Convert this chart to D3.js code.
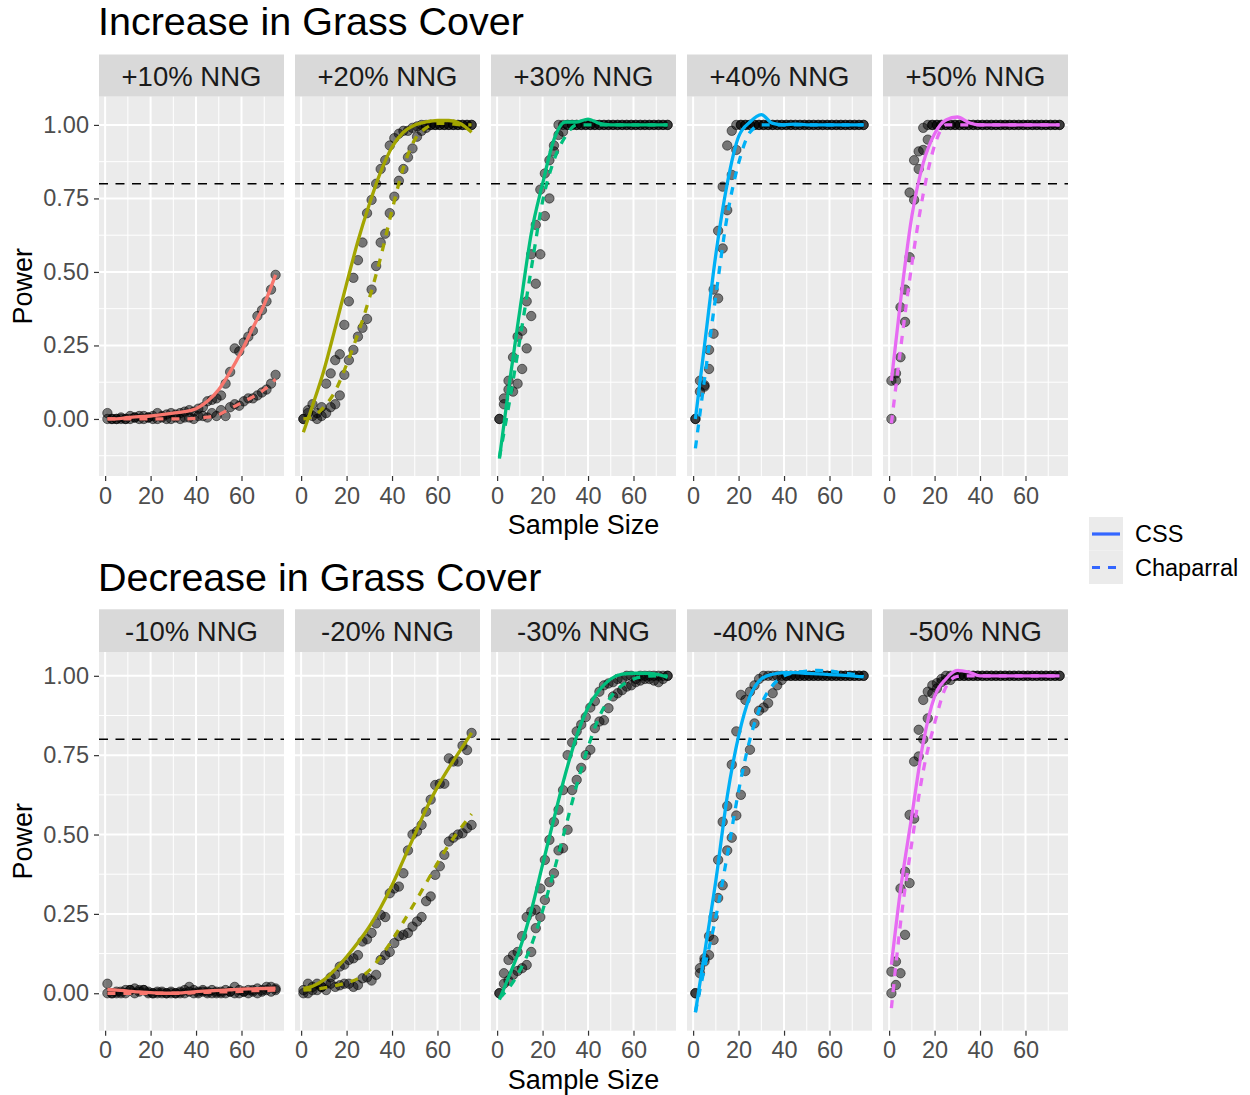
<!DOCTYPE html>
<html><head><meta charset="utf-8">
<script src="https://cdn.jsdelivr.net/npm/d3@7"></script>
<style>
body{margin:0;background:#fff}
text{font-family:"Liberation Sans", Arial, Helvetica, sans-serif}
</style>
</head><body>
<svg id="chart" width="1250" height="1095"></svg>
<script>
// ---------------- DATA ----------------
const sampleSizes = [1,3,5,7,9,11,13,15,17,19,21,23,25,27,29,31,33,35,37,39,41,43,45,47,49,51,53,55,57,59,61,63,65,67,69,71,73,75];
const fitSizes = [1,5,10,15,20,25,30,35,40,45,50,55,60,65,70,75];

const incLabels = ["+10% NNG","+20% NNG","+30% NNG","+40% NNG","+50% NNG"];
const decLabels = ["-10% NNG","-20% NNG","-30% NNG","-40% NNG","-50% NNG"];
const panelColors = ["#F8766D","#A3A500","#00BF7D","#00B0F6","#E76BF3"];
const habitats = ["CSS","Chaparral"];
const legendColor = "#3366FF";
const yTicks = [0,0.25,0.5,0.75,1.0];
const yMinor = [-0.125,0.125,0.375,0.625,0.875,1.125];
const xTicks = [0,20,40,60];
const xMinor = [10,30,50,70];
const powerThreshold = 0.8;

// points: power at each sample size (sampleSizes)
const inc10Css = [0.02,0.00,0.00,0.005,0.00,0.01,0.005,0.01,0.01,0.005,0.01,0.02,0.01,0.015,0.02,0.015,0.02,0.025,0.03,0.025,0.035,0.04,0.06,0.065,0.07,0.08,0.12,0.16,0.24,0.23,0.26,0.28,0.30,0.35,0.37,0.40,0.44,0.49];
const inc10Chap = [0.00,0.00,0.00,0.00,0.00,0.00,0.005,0.00,0.00,0.005,0.00,0.00,0.005,0.00,0.00,0.005,0.00,0.005,0.005,0.00,0.01,0.01,0.005,0.02,0.01,0.03,0.01,0.04,0.05,0.045,0.06,0.07,0.07,0.08,0.09,0.10,0.12,0.15];
const inc20Css = [0.00,0.03,0.05,0.02,0.04,0.12,0.155,0.20,0.22,0.32,0.40,0.48,0.54,0.60,0.70,0.745,0.80,0.85,0.88,0.93,0.955,0.97,0.98,0.98,0.99,0.995,1.00,1.00,1.00,1.00,1.00,1.00,1.00,1.00,1.00,1.00,1.00,1.00];
const inc20Chap = [0.00,0.02,0.01,0.00,0.01,0.02,0.04,0.05,0.08,0.15,0.20,0.235,0.28,0.31,0.34,0.44,0.52,0.60,0.63,0.70,0.756,0.81,0.85,0.89,0.92,0.96,0.98,0.99,1.00,1.00,1.00,1.00,1.00,1.00,1.00,1.00,1.00,1.00];
const inc30Css = [0.00,0.07,0.10,0.21,0.28,0.30,0.40,0.56,0.66,0.78,0.835,0.88,0.93,1.00,1.00,1.00,1.00,1.00,1.00,1.00,1.00,1.00,1.00,1.00,1.00,1.00,1.00,1.00,1.00,1.00,1.00,1.00,1.00,1.00,1.00,1.00,1.00,1.00];
const inc30Chap = [0.00,0.05,0.13,0.093,0.12,0.17,0.24,0.35,0.46,0.56,0.69,0.75,0.91,0.966,0.977,1.00,1.00,1.00,1.00,1.00,1.00,1.00,1.00,1.00,1.00,1.00,1.00,1.00,1.00,1.00,1.00,1.00,1.00,1.00,1.00,1.00,1.00,1.00];
const inc40Css = [0.00,0.13,0.115,0.17,0.44,0.64,0.79,0.93,0.98,1.00,1.00,1.00,1.00,1.00,1.00,1.00,1.00,1.00,1.00,1.00,1.00,1.00,1.00,1.00,1.00,1.00,1.00,1.00,1.00,1.00,1.00,1.00,1.00,1.00,1.00,1.00,1.00,1.00];
const inc40Chap = [0.00,0.093,0.11,0.235,0.29,0.41,0.58,0.71,0.83,0.915,1.00,1.00,1.00,1.00,1.00,1.00,1.00,1.00,1.00,1.00,1.00,1.00,1.00,1.00,1.00,1.00,1.00,1.00,1.00,1.00,1.00,1.00,1.00,1.00,1.00,1.00,1.00,1.00];
const inc50Css = [0.13,0.155,0.38,0.44,0.77,0.88,0.91,0.99,1.00,1.00,1.00,1.00,1.00,1.00,1.00,1.00,1.00,1.00,1.00,1.00,1.00,1.00,1.00,1.00,1.00,1.00,1.00,1.00,1.00,1.00,1.00,1.00,1.00,1.00,1.00,1.00,1.00,1.00];
const inc50Chap = [0.00,0.13,0.21,0.33,0.55,0.745,0.85,0.915,0.95,1.00,1.00,1.00,1.00,1.00,1.00,1.00,1.00,1.00,1.00,1.00,1.00,1.00,1.00,1.00,1.00,1.00,1.00,1.00,1.00,1.00,1.00,1.00,1.00,1.00,1.00,1.00,1.00,1.00];

const dec10Css = [0.03,0.00,0.00,0.005,0.01,0.01,0.015,0.01,0.01,0.005,0.00,0.005,0.00,0.00,0.005,0.00,0.005,0.01,0.02,0.01,0.005,0.01,0.005,0.01,0.00,0.005,0.01,0.005,0.02,0.01,0.005,0.01,0.01,0.015,0.01,0.02,0.02,0.015];
const dec10Chap = [0.00,0.00,0.005,0.00,0.00,0.01,0.00,0.005,0.01,0.00,0.00,0.00,0.005,0.00,0.00,0.00,0.00,0.00,0.005,0.00,0.00,0.005,0.00,0.00,0.005,0.00,0.00,0.005,0.00,0.00,0.005,0.00,0.005,0.00,0.005,0.01,0.005,0.01];
const dec20Css = [0.00,0.03,0.01,0.03,0.02,0.03,0.05,0.06,0.084,0.09,0.105,0.11,0.12,0.163,0.17,0.19,0.22,0.247,0.24,0.315,0.33,0.336,0.378,0.45,0.50,0.51,0.53,0.572,0.61,0.656,0.66,0.66,0.74,0.73,0.73,0.78,0.766,0.82];
const dec20Chap = [0.01,0.00,0.02,0.01,0.02,0.01,0.03,0.02,0.025,0.03,0.03,0.02,0.026,0.047,0.05,0.04,0.058,0.105,0.12,0.13,0.158,0.18,0.184,0.19,0.21,0.226,0.24,0.29,0.305,0.373,0.40,0.436,0.478,0.49,0.50,0.504,0.52,0.53];
const dec30Css = [0.00,0.063,0.105,0.12,0.13,0.18,0.24,0.257,0.263,0.33,0.42,0.483,0.54,0.578,0.64,0.75,0.79,0.825,0.846,0.87,0.90,0.92,0.95,0.97,0.976,0.98,0.99,0.99,1.00,1.00,0.99,1.00,1.00,1.00,1.00,1.00,1.00,1.00];
const dec30Chap = [0.00,0.03,0.04,0.058,0.07,0.079,0.089,0.13,0.205,0.24,0.294,0.35,0.378,0.45,0.457,0.515,0.64,0.672,0.71,0.75,0.767,0.835,0.856,0.86,0.898,0.935,0.945,0.955,0.966,0.97,0.98,0.985,0.99,0.99,0.985,0.98,0.99,1.00];
const dec40Css = [0.00,0.079,0.11,0.18,0.24,0.42,0.54,0.59,0.72,0.825,0.94,0.924,0.95,0.97,0.99,1.00,1.00,1.00,1.00,1.00,1.00,1.00,1.00,1.00,1.00,1.00,1.00,1.00,1.00,1.00,1.00,1.00,1.00,1.00,1.00,1.00,1.00,1.00];
const dec40Chap = [0.00,0.063,0.10,0.12,0.168,0.30,0.34,0.45,0.49,0.56,0.625,0.70,0.767,0.85,0.89,0.90,0.914,0.945,0.97,0.987,1.00,1.00,1.00,1.00,1.00,1.00,1.00,1.00,1.00,1.00,1.00,1.00,1.00,1.00,1.00,1.00,1.00,1.00];
const dec50Css = [0.068,0.10,0.33,0.383,0.562,0.73,0.83,0.924,0.95,0.97,0.977,0.99,1.00,1.00,1.00,1.00,1.00,1.00,1.00,1.00,1.00,1.00,1.00,1.00,1.00,1.00,1.00,1.00,1.00,1.00,1.00,1.00,1.00,1.00,1.00,1.00,1.00,1.00];
const dec50Chap = [0.00,0.026,0.063,0.184,0.347,0.55,0.746,0.80,0.866,0.945,0.96,0.98,0.987,0.987,1.00,1.00,1.00,1.00,1.00,1.00,1.00,1.00,1.00,1.00,1.00,1.00,1.00,1.00,1.00,1.00,1.00,1.00,1.00,1.00,1.00,1.00,1.00,1.00];

// smoothed fits at fitSizes
const inc10CssFit = [0.0,0.0,0.005,0.008,0.01,0.015,0.02,0.025,0.035,0.06,0.10,0.16,0.23,0.31,0.39,0.49];
const inc10ChapFit = [0.0,0.0,0.0,0.0,0.0,0.0,0.0,0.0,0.002,0.006,0.015,0.035,0.055,0.075,0.10,0.135];
const inc20CssFit = [-0.045,0.045,0.165,0.31,0.46,0.605,0.73,0.84,0.925,0.975,1.0,1.01,1.015,1.015,1.005,0.975];
const inc20ChapFit = [0.0,0.008,0.04,0.095,0.185,0.29,0.41,0.55,0.71,0.855,0.95,0.99,1.005,1.005,1.0,1.0];
const inc30CssFit = [-0.135,0.10,0.37,0.63,0.80,0.95,1.01,1.01,1.02,1.005,1.0,1.0,1.0,1.0,1.0,1.0];
const inc30ChapFit = [-0.13,0.04,0.27,0.51,0.74,0.88,0.96,1.0,1.0,1.0,1.0,1.0,1.0,1.0,1.0,1.0];
const inc40CssFit = [0.0,0.25,0.56,0.80,0.96,1.01,1.035,1.005,1.0,1.003,1.0,1.0,1.0,1.0,1.0,1.0];
const inc40ChapFit = [-0.10,0.135,0.42,0.69,0.87,0.975,1.0,1.0,1.0,1.0,1.0,1.0,1.0,1.0,1.0,1.0];
const inc50CssFit = [0.13,0.40,0.69,0.87,0.97,1.017,1.027,1.008,1.0,1.0,1.0,1.0,1.0,1.0,1.0,1.0];
const inc50ChapFit = [-0.015,0.236,0.527,0.765,0.93,1.0,1.0,1.0,1.0,1.0,1.0,1.0,1.0,1.0,1.0,1.0];
const dec10CssFit = [0.012,0.01,0.007,0.004,0.002,0.0,0.0,0.002,0.005,0.007,0.009,0.011,0.013,0.014,0.015,0.016];
const dec10ChapFit = [0.0,0.0,0.0,0.0,0.0,0.0,0.0,0.0,0.002,0.003,0.004,0.005,0.006,0.008,0.009,0.01];
const dec20CssFit = [0.015,0.022,0.042,0.075,0.115,0.16,0.21,0.27,0.34,0.42,0.50,0.58,0.65,0.71,0.765,0.82];
const dec20ChapFit = [0.01,0.012,0.017,0.024,0.033,0.046,0.072,0.115,0.167,0.225,0.285,0.347,0.41,0.468,0.518,0.565];
const dec30CssFit = [-0.02,0.05,0.14,0.26,0.405,0.55,0.69,0.81,0.90,0.955,0.99,1.005,1.008,1.008,1.005,0.995];
const dec30ChapFit = [-0.015,0.015,0.072,0.15,0.26,0.385,0.52,0.655,0.775,0.872,0.933,0.97,0.99,0.998,1.0,1.0];
const dec40CssFit = [-0.06,0.125,0.355,0.62,0.81,0.935,0.99,1.005,1.01,1.01,1.008,1.006,1.004,1.002,1.0,0.997];
const dec40ChapFit = [-0.06,0.08,0.24,0.434,0.637,0.80,0.91,0.97,1.0,1.01,1.015,1.017,1.015,1.01,1.005,0.998];
const dec50CssFit = [0.09,0.325,0.56,0.79,0.935,0.99,1.017,1.012,1.0,1.0,1.0,1.0,1.0,1.0,1.0,1.0];
const dec50ChapFit = [-0.047,0.22,0.475,0.70,0.85,0.965,0.998,1.0,1.0,1.0,1.0,1.0,1.0,1.0,1.0,1.0];

// ---------------- LAYOUT ----------------
const incPanels = [
  {pts:[inc10Css,inc10Chap], fits:[inc10CssFit,inc10ChapFit]},
  {pts:[inc20Css,inc20Chap], fits:[inc20CssFit,inc20ChapFit]},
  {pts:[inc30Css,inc30Chap], fits:[inc30CssFit,inc30ChapFit]},
  {pts:[inc40Css,inc40Chap], fits:[inc40CssFit,inc40ChapFit]},
  {pts:[inc50Css,inc50Chap], fits:[inc50CssFit,inc50ChapFit]}
];
const decPanels = [
  {pts:[dec10Css,dec10Chap], fits:[dec10CssFit,dec10ChapFit]},
  {pts:[dec20Css,dec20Chap], fits:[dec20CssFit,dec20ChapFit]},
  {pts:[dec30Css,dec30Chap], fits:[dec30CssFit,dec30ChapFit]},
  {pts:[dec40Css,dec40Chap], fits:[dec40CssFit,dec40ChapFit]},
  {pts:[dec50Css,dec50Chap], fits:[dec50CssFit,dec50ChapFit]}
];

const rows = [
  {title:"Increase in Grass Cover", titleY:35, stripTop:54.5, panelTop:96.7, panelBottom:476,
   yDomain:[-0.194,1.096], labels:incLabels, panels:incPanels, xTitleY:534},
  {title:"Decrease in Grass Cover", titleY:591, stripTop:609.3, panelTop:652, panelBottom:1030.7,
   yDomain:[-0.118,1.075], labels:decLabels, panels:decPanels, xTitleY:1089}
];

const panelW = 185, panelStep = 196, panelLeft0 = 99;
const xDomain = [-2.7, 78.7];
const dashes = [null, "8,8"];

const svg = d3.select("#chart");
const defs = svg.append("defs");

rows.forEach((row, ri) => {
  const g = svg.append("g");
  g.append("text").attr("x", 98).attr("y", row.titleY)
    .attr("font-size", 39.5).attr("fill", "#000").text(row.title);

  const y = d3.scaleLinear().domain(row.yDomain).range([row.panelBottom, row.panelTop]);
  const ph = row.panelBottom - row.panelTop;

  row.panels.forEach((p, pi) => {
    const left = panelLeft0 + pi * panelStep;
    const x = d3.scaleLinear().domain(xDomain).range([left, left + panelW]);
    const pg = g.append("g");

    // strip
    pg.append("rect").attr("x", left).attr("y", row.stripTop).attr("width", panelW)
      .attr("height", row.panelTop - row.stripTop).attr("fill", "#D9D9D9");
    pg.append("text").attr("x", left + panelW / 2)
      .attr("y", (row.stripTop + row.panelTop) / 2 + 10)
      .attr("text-anchor", "middle").attr("font-size", 27.5).attr("fill", "#1A1A1A")
      .text(row.labels[pi]);

    // panel background
    pg.append("rect").attr("x", left).attr("y", row.panelTop).attr("width", panelW)
      .attr("height", ph).attr("fill", "#EBEBEB");

    const yMin = yMinor.filter(v => v >= row.yDomain[0] && v <= row.yDomain[1]);
    pg.selectAll(null).data(yMin).join("line")
      .attr("x1", left).attr("x2", left + panelW).attr("y1", d => y(d)).attr("y2", d => y(d))
      .attr("stroke", "#fff").attr("stroke-width", 1);
    pg.selectAll(null).data(xMinor).join("line")
      .attr("y1", row.panelTop).attr("y2", row.panelBottom).attr("x1", d => x(d)).attr("x2", d => x(d))
      .attr("stroke", "#fff").attr("stroke-width", 1);
    pg.selectAll(null).data(yTicks).join("line")
      .attr("x1", left).attr("x2", left + panelW).attr("y1", d => y(d)).attr("y2", d => y(d))
      .attr("stroke", "#fff").attr("stroke-width", 2);
    pg.selectAll(null).data(xTicks).join("line")
      .attr("y1", row.panelTop).attr("y2", row.panelBottom).attr("x1", d => x(d)).attr("x2", d => x(d))
      .attr("stroke", "#fff").attr("stroke-width", 2);

    const clipId = `clip-${ri}-${pi}`;
    defs.append("clipPath").attr("id", clipId).append("rect")
      .attr("x", left).attr("y", row.panelTop).attr("width", panelW).attr("height", ph);
    const inner = pg.append("g").attr("clip-path", `url(#${clipId})`);

    // threshold line
    inner.append("line").attr("x1", left).attr("x2", left + panelW)
      .attr("y1", y(powerThreshold)).attr("y2", y(powerThreshold))
      .attr("stroke", "#000").attr("stroke-width", 1.5).attr("stroke-dasharray", "9,7.5");

    // points
    p.pts.forEach(vals => {
      inner.selectAll(null).data(vals).join("circle")
        .attr("cx", (d, i) => x(sampleSizes[i])).attr("cy", d => y(d)).attr("r", 4.7)
        .attr("fill", "#000").attr("fill-opacity", 0.5)
        .attr("stroke", "#000").attr("stroke-opacity", 0.5).attr("stroke-width", 1);
    });

    // smooth lines
    const line = d3.line().x((d, i) => x(fitSizes[i])).y(d => y(d))
      .curve(d3.curveMonotoneX);
    p.fits.forEach((vals, si) => {
      inner.append("path").datum(vals).attr("d", line).attr("fill", "none")
        .attr("stroke", panelColors[pi]).attr("stroke-width", 3.3)
        .attr("stroke-dasharray", dashes[si]);
    });

    // x axis
    const xa = pg.append("g").attr("transform", `translate(0,${row.panelBottom})`)
      .call(d3.axisBottom(x).tickValues(xTicks).tickSize(5).tickPadding(6));
    xa.select(".domain").remove();
    xa.selectAll(".tick line").attr("stroke", "#333").attr("stroke-width", 1.2);
    xa.selectAll(".tick text").attr("fill", "#4D4D4D").attr("font-size", 23.5)
      .attr("font-family", '"Liberation Sans", Arial, sans-serif');

    if (pi === 0) {
      const ya = pg.append("g").attr("transform", `translate(${left},0)`)
        .call(d3.axisLeft(y).tickValues(yTicks).tickFormat(d3.format(".2f")).tickSize(5).tickPadding(5));
      ya.select(".domain").remove();
      ya.selectAll(".tick line").attr("stroke", "#333").attr("stroke-width", 1.2);
      ya.selectAll(".tick text").attr("fill", "#4D4D4D").attr("font-size", 23.5)
        .attr("font-family", '"Liberation Sans", Arial, sans-serif');
    }
  });

  // axis titles
  g.append("text").attr("x", panelLeft0 + 2 * panelStep + panelW / 2).attr("y", row.xTitleY)
    .attr("text-anchor", "middle").attr("font-size", 27).attr("fill", "#000").text("Sample Size");
  g.append("text")
    .attr("transform", `translate(31.5,${(row.panelTop + row.panelBottom) / 2}) rotate(-90)`)
    .attr("text-anchor", "middle").attr("font-size", 27).attr("fill", "#000").text("Power");
});

// legend
const lg = svg.append("g");
const keyY = [517, 550.5];
habitats.forEach((h, i) => {
  lg.append("rect").attr("x", 1089).attr("y", keyY[i]).attr("width", 34).attr("height", 33.5)
    .attr("fill", "#EBEBEB");
  lg.append("line").attr("x1", 1092).attr("x2", 1120)
    .attr("y1", keyY[i] + 17).attr("y2", keyY[i] + 17)
    .attr("stroke", legendColor).attr("stroke-width", 3.2)
    .attr("stroke-dasharray", dashes[i]);
  lg.append("text").attr("x", 1135).attr("y", keyY[i] + 25)
    .attr("font-size", 23.5).attr("fill", "#000").text(h);
});
</script>
</body></html>
